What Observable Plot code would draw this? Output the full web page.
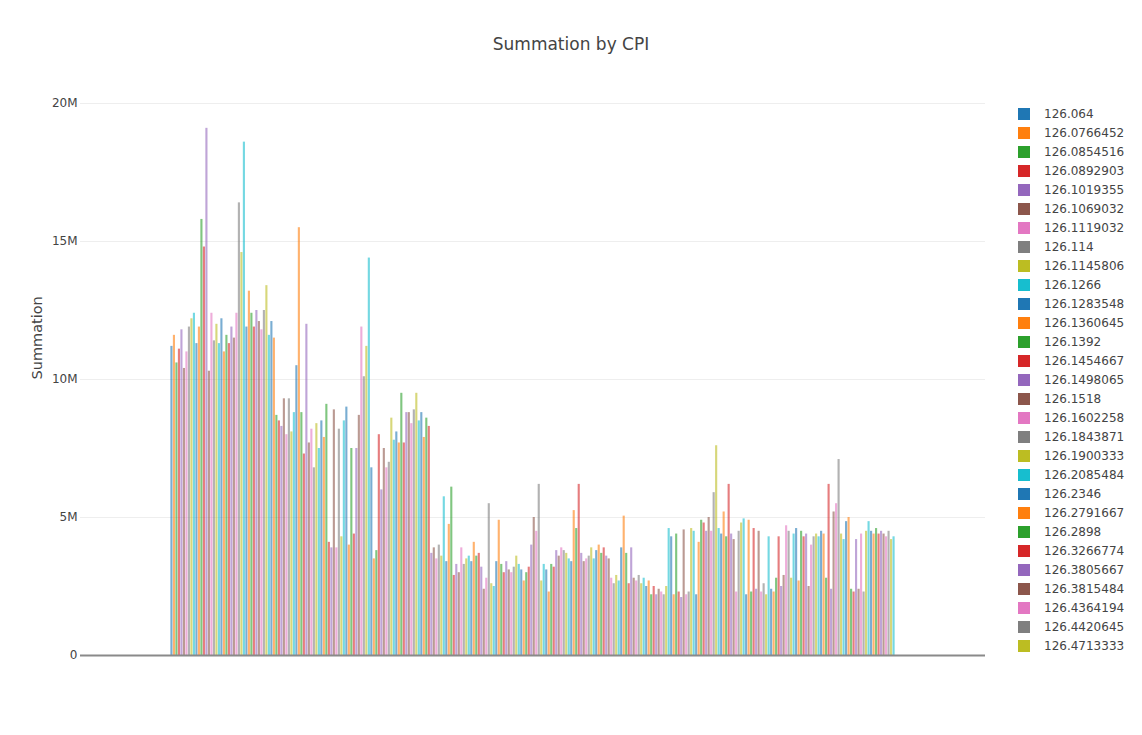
<!DOCTYPE html>
<html>
<head>
<meta charset="utf-8">
<script src="https://cdn.jsdelivr.net/npm/d3@7"></script>
<script src="https://cdn.jsdelivr.net/npm/@observablehq/plot@0.6"></script>
<style>
  html, body { margin: 0; padding: 0; background: #fff; }
  #wrap { position: relative; width: 1142px; height: 735px; font-family: "DejaVu Sans", Verdana, sans-serif; overflow: hidden; }
  #title { position: absolute; left: 0; top: 34px; width: 1142px; text-align: center; font-size: 17px; color: #444; line-height: 20px; }
  #legend { position: absolute; left: 1018px; top: 108px; }
  .item { position: absolute; left: 0; height: 12px; white-space: nowrap; }
  .sw { position: absolute; left: 0; top: 0; width: 12px; height: 12px; }
  .lab { position: absolute; left: 26px; top: -2px; font-size: 12px; color: #444; line-height: 16px; }
  #chart { position: absolute; left: 0; top: 0; }
</style>
</head>
<body>
<div id="wrap">
  <div id="chart"></div>
  <div id="title">Summation by CPI</div>
  <div id="legend"></div>
</div>
<script>
// CPI categories shown in the legend (the list is cut off in the reference)
const cpiLabels = ["126.064","126.0766452","126.0854516","126.0892903","126.1019355","126.1069032","126.1119032","126.114","126.1145806","126.1266","126.1283548","126.1360645","126.1392","126.1454667","126.1498065","126.1518","126.1602258","126.1843871","126.1900333","126.2085484","126.2346","126.2791667","126.2898","126.3266774","126.3805667","126.3815484","126.4364194","126.4420645","126.4713333"];

const palette = ["#1f77b4","#ff7f0e","#2ca02c","#d62728","#9467bd","#8c564b","#e377c2","#7f7f7f","#bcbd22","#17becf"];

// Summation values (millions), one per bar, left to right
const summationM = [
  11.2, 11.6, 10.6, 11.1, 11.8, 10.4, 11.0, 11.9, 12.2, 12.4,
  11.3, 11.9, 15.8, 14.8, 19.1, 10.3, 12.4, 11.4, 12.0, 11.3,
  12.2, 11.0, 11.6, 11.3, 11.9, 11.5, 12.4, 16.4, 14.6, 18.6,
  11.9, 13.2, 12.4, 11.9, 12.5, 12.1, 11.8, 12.5, 13.4, 11.6,
  12.1, 11.5, 8.7, 8.5, 8.3, 9.3, 8.0, 9.3, 8.1, 8.8,
  10.5, 15.5, 8.8, 7.3, 12.0, 7.7, 8.2, 6.8, 8.4, 7.5,
  8.5, 7.9, 9.1, 4.1, 3.9, 8.9, 3.9, 8.2, 4.3, 8.5,
  9.0, 4.0, 7.5, 4.4, 7.5, 8.7, 11.9, 10.1, 11.2, 14.4,
  6.8, 3.5, 3.8, 8.0, 6.0, 7.5, 6.8, 7.0, 8.6, 7.8,
  8.1, 7.7, 9.5, 7.7, 8.8, 8.8, 8.4, 8.9, 9.5, 8.5,
  8.8, 7.9, 8.6, 8.3, 3.7, 3.9, 3.5, 4.0, 3.6, 5.75,
  3.4, 4.75, 6.1, 2.9, 3.3, 3.0, 3.9, 3.3, 3.5, 3.6,
  3.4, 4.1, 3.6, 3.7, 3.2, 2.4, 2.8, 5.5, 2.6, 2.5,
  3.4, 4.9, 3.3, 3.0, 3.4, 3.1, 3.0, 3.2, 3.6, 3.3,
  3.1, 2.7, 3.0, 3.2, 4.0, 5.0, 4.5, 6.2, 2.7, 3.3,
  3.1, 2.3, 3.3, 3.2, 3.8, 3.6, 3.9, 3.8, 3.7, 3.5,
  3.4, 5.25, 4.6, 6.2, 3.7, 3.4, 3.5, 3.6, 3.9, 3.5,
  3.8, 4.0, 3.7, 3.9, 3.6, 3.5, 2.8, 2.6, 2.9, 2.7,
  3.9, 5.05, 3.7, 2.6, 3.9, 2.8, 2.7, 2.9, 2.6, 2.8,
  2.5, 2.7, 2.2, 2.5, 2.2, 2.4, 2.3, 2.2, 2.5, 4.6,
  4.3, 2.2, 4.4, 2.3, 2.1, 4.55, 2.2, 2.3, 4.6, 4.5,
  2.2, 4.1, 4.9, 4.8, 4.5, 5.0, 4.5, 5.9, 7.6, 4.6,
  4.4, 5.2, 4.3, 6.2, 4.4, 4.2, 2.3, 4.5, 4.8, 4.95,
  2.2, 4.9, 2.3, 4.6, 2.4, 4.5, 2.3, 2.6, 2.2, 4.3,
  2.4, 2.3, 2.8, 4.3, 2.5, 2.9, 4.7, 4.5, 2.8, 4.4,
  4.6, 2.7, 4.5, 4.3, 4.4, 2.5, 4.0, 4.3, 4.4, 4.3,
  4.5, 4.4, 2.8, 6.2, 2.4, 5.2, 5.5, 7.1, 4.4, 4.2,
  4.85, 5.0, 2.4, 2.3, 4.2, 2.4, 4.4, 2.3, 4.5, 4.85,
  4.5, 4.4, 4.6, 4.4, 4.5, 4.4, 4.3, 4.5, 4.2, 4.3
];

const yTicks = [0, 5e6, 10e6, 15e6, 20e6];

const bars = summationM.map((v, i) => ({i, value: v * 1e6, color: palette[i % palette.length]}));

const chart = Plot.plot({
  width: 1142,
  height: 735,
  marginLeft: 80,
  marginRight: 157,
  marginTop: 103,
  marginBottom: 80,
  style: {fontFamily: "'DejaVu Sans', Verdana, sans-serif", fontSize: "12px", color: "#444", background: "#fff"},
  x: {type: "band", domain: bars.map(d => d.i), insetLeft: 90, insetRight: 90, padding: 0.15, axis: null},
  y: {domain: [0, 20e6], axis: null},
  marks: [
    Plot.ruleY(yTicks.slice(1), {stroke: "#eeeeee", strokeWidth: 1}),
    Plot.barY(bars, {x: "i", y: "value", fill: "color", fillOpacity: 0.6}),
    Plot.ruleY([0], {stroke: "#8a8a8a", strokeWidth: 2}),
    Plot.axisY(yTicks, {tickSize: 0, tickPadding: 3, fill: "#444", fontSize: 12,
      tickFormat: d => d === 0 ? "0" : (d / 1e6) + "M", label: null}),
    Plot.text(["Summation"], {frameAnchor: "left", dx: -43, rotate: -90, fontSize: 14.5, fill: "#444"})
  ]
});
document.getElementById("chart").appendChild(chart);

const legend = document.getElementById("legend");
cpiLabels.forEach((lab, k) => {
  const item = document.createElement("div");
  item.className = "item";
  item.style.top = (k * 19) + "px";
  const sw = document.createElement("div");
  sw.className = "sw";
  sw.style.background = palette[k % palette.length];
  const t = document.createElement("div");
  t.className = "lab";
  t.textContent = lab;
  item.appendChild(sw);
  item.appendChild(t);
  legend.appendChild(item);
});
</script>
</body>
</html>
